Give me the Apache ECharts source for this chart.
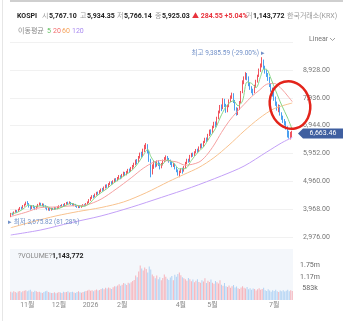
<!DOCTYPE html>
<html>
<head>
<meta charset="utf-8">
<script src="https://cdn.jsdelivr.net/npm/echarts@6/dist/echarts.min.js"></script>
<style>
html, body { margin: 0; padding: 0; background: #fff; }
#chart { width: 350px; height: 321px; }
</style>
</head>
<body>
<div id="chart"></div>
<script>
// 일봉 [시가, 종가, 저가, 고가]
const ohlc = [
  [3720,3800,3676,3830],[3800,3780,3740,3840],[3785,3860,3770,3880],[3860,3900,3840,3940],[3900,3870,3830,3930],
  [3875,3950,3860,3980],[3950,4010,3930,4040],[4010,3990,3950,4050],[3990,4080,3980,4110],[4080,4120,4050,4160],
  [4120,4190,4100,4230],[4190,4160,4120,4250],[4160,4060,4020,4180],[4060,3990,3940,4090],[3990,4070,3970,4100],
  [4070,4030,3990,4110],[4030,3960,3930,4060],[3960,4040,3950,4080],[4040,4120,4020,4150],[4120,4160,4090,4200],
  [4160,4110,4080,4190],[4110,4140,4070,4170],[4140,4080,4040,4160],[4080,4010,3980,4100],[4010,3950,3920,4040],
  [3950,3990,3910,4020],[3990,3940,3900,4020],[3940,3980,3910,4010],[3980,3960,3930,4010],[3960,4010,3940,4040],
  [4010,3975,3950,4030],[3975,4030,3960,4060],[4030,4070,4000,4100],[4070,4050,4020,4110],[4050,4110,4040,4140],
  [4110,4090,4060,4150],[4090,4150,4070,4180],[4150,4190,4120,4220],[4190,4160,4130,4230],[4160,4200,4140,4240],
  [4200,4150,4110,4220],[4150,4110,4080,4180],[4110,4130,4070,4170],[4130,4070,4040,4150],[4070,4040,4010,4100],
  [4040,4060,4000,4090],[4060,4030,4000,4090],[4030,4080,4010,4110],[4080,4110,4050,4140],[4110,4090,4060,4150],
  [4090,4150,4070,4180],[4150,4200,4120,4240],[4200,4290,4180,4320],[4290,4360,4260,4400],[4360,4420,4330,4460],
  [4420,4400,4350,4470],[4400,4480,4380,4520],[4480,4540,4450,4580],[4540,4520,4480,4590],[4520,4600,4500,4640],
  [4600,4660,4570,4700],[4660,4640,4590,4720],[4640,4730,4620,4770],[4730,4800,4700,4840],[4800,4760,4720,4850],
  [4760,4850,4740,4890],[4850,4900,4820,4950],[4900,4870,4830,4960],[4870,4950,4850,4990],[4950,5010,4920,5060],
  [5010,4980,4930,5070],[4980,5070,4960,5110],[5070,5130,5040,5180],[5130,5080,5030,5170],[5080,5170,5060,5220],
  [5170,5250,5140,5300],[5250,5200,5140,5290],[5200,5290,5170,5330],[5290,5350,5250,5400],[5350,5310,5260,5410],
  [5310,5420,5290,5470],[5420,5480,5380,5540],[5480,5560,5450,5620],[5560,5680,5530,5730],[5680,5640,5560,5750],
  [5640,5800,5620,5860],[5800,5920,5770,5980],[5920,5880,5800,6010],[5880,6050,5860,6120],[6050,6180,6000,6260],
  [6180,6230,6100,6320],[6230,6020,5950,6280],[6000,5720,5650,6050],[5700,5250,5100,5760],[5250,5480,5200,5560],
  [5480,5620,5400,5700],[5620,5530,5450,5680],[5530,5640,5480,5700],[5640,5580,5500,5710],[5580,5470,5380,5620],
  [5470,5560,5420,5610],[5560,5680,5520,5730],[5680,5760,5640,5820],[5760,5820,5720,5880],[5820,5740,5680,5860],
  [5740,5690,5620,5790],[5690,5600,5540,5730],[5600,5520,5460,5650],[5520,5560,5470,5610],[5560,5440,5380,5590],
  [5440,5350,5280,5470],[5350,5240,5160,5380],[5240,5300,5100,5340],[5300,5380,5250,5420],[5380,5320,5230,5440],
  [5320,5450,5300,5500],[5450,5600,5420,5650],[5600,5710,5570,5760],[5710,5680,5620,5760],[5680,5850,5650,5900],
  [5850,5920,5810,5970],[5920,5880,5830,5980],[5880,5980,5860,6030],[5980,6060,5950,6110],[6060,6020,5970,6120],
  [6020,6150,6000,6200],[6150,6250,6120,6300],[6250,6200,6140,6310],[6200,6350,6180,6400],[6350,6460,6320,6510],
  [6460,6420,6360,6520],[6420,6600,6400,6650],[6600,6740,6570,6800],[6740,6690,6620,6810],[6690,6880,6670,6940],
  [6880,7020,6850,7080],[7020,6960,6880,7090],[6960,7200,6940,7260],[7200,7420,7170,7480],[7420,7600,7380,7680],
  [7600,7560,7460,7700],[7560,7850,7530,7920],[7850,7680,7600,7900],[7680,7480,7400,7720],[7480,7620,7420,7680],
  [7620,7820,7600,7880],[7820,7950,7780,8020],[7950,8060,7900,8120],[8060,7820,7750,8100],[7820,7560,7480,7860],
  [7560,7380,7300,7600],[7380,7520,7320,7580],[7520,7760,7500,7820],[7760,8120,7740,8180],[8120,8480,8100,8560],
  [8480,8620,8420,8700],[8620,8780,8580,8850],[8780,8650,8560,8820],[8650,8430,8350,8700],[8430,8300,8220,8480],
  [8300,8180,8100,8350],[8180,8120,8020,8260],[8120,8340,8100,8400],[8340,8520,8300,8580],[8520,8700,8480,8760],
  [8700,8910,8680,8980],[8910,9080,8860,9160],[9080,9250,9020,9385.59],[9250,9020,8950,9300],[9020,8880,8800,9080],
  [8880,8760,8680,8940],[8760,8620,8540,8820],[8620,8400,8320,8680],[8400,8250,8150,8460],[8250,8080,7980,8300],
  [8080,7920,7830,8150],[7920,7740,7650,7980],[7740,7580,7480,7800],[7580,7620,7420,7700],[7620,7380,7300,7680],
  [7380,7250,7150,7420],[7250,7140,7040,7300],[7140,7060,6950,7180],[7060,6880,6800,7100],[6880,6700,6520,6920],
  [6700,6560,6480,6760],[6560,6620,6450,6720],[6600,6663.46,6520,6760]
];

// 거래량 (천 주)
const volumesK = [
  420,380,450,400,370,430,460,390,440,470,
  500,450,480,520,430,410,470,440,400,420,
  380,360,410,440,470,400,380,350,360,390,
  340,370,400,380,360,420,390,410,440,380,
  400,420,380,360,410,440,390,370,400,430,
  460,480,520,470,500,450,490,530,480,510,
  560,600,540,620,580,640,600,560,650,700,
  680,740,800,720,780,860,820,760,880,840,
  900,960,1020,1250,1150,1450,1750,1600,1500,1650,
  1580,1400,1700,1550,1300,1200,1100,1250,1050,1150,
  1000,1120,1300,1180,1080,1020,1140,1220,1000,1280,
  1180,1320,1400,1260,1150,1100,1050,980,1120,1060,
  950,1040,900,980,1060,920,880,1000,940,1100,
  860,980,920,1040,880,820,960,900,840,1000,
  780,720,860,700,660,740,620,700,760,640,
  680,600,560,640,700,620,580,660,540,600,
  520,580,560,480,540,600,520,560,620,500,
  460,540,480,420,500,460,520,440,400,480,
  450,500,430,470,520,440,490,460
];

// 이동평균 [봉 번호, 값]
const ma5 = [[0,3790],[4,3840],[8,3960],[12,4110],[16,4060],[20,4080],[24,4060],[28,3960],[32,3990],[36,4080],
  [40,4170],[44,4100],[48,4060],[52,4150],[56,4380],[60,4550],[64,4700],[68,4880],[72,5030],[76,5180],[80,5320],
  [84,5560],[88,5880],[91,6100],[93,5850],[96,5620],[100,5540],[104,5720],[108,5620],[112,5400],[116,5410],
  [120,5700],[124,5970],[128,6180],[132,6510],[136,6840],[140,7330],[144,7690],[148,7830],[151,7650],[154,7830],
  [157,8500],[160,8450],[163,8300],[166,8700],[168,8960],[170,8950],[173,8600],[176,8190],[180,7670],[184,7210],[187,6800]];
const ma20 = [[0,3700],[10,3850],[20,4020],[30,4040],[40,4080],[50,4110],[60,4320],[70,4680],[80,5080],[88,5420],
  [95,5640],[100,5700],[110,5650],[116,5530],[125,5640],[130,5880],[135,6250],[140,6700],[145,7100],[150,7420],
  [155,7700],[160,7980],[165,8200],[170,8420],[175,8450],[180,8250],[184,8000],[187,7800]];
const ma60 = [[0,3300],[15,3520],[30,3720],[45,3880],[60,4020],[75,4220],[90,4550],[105,4950],[115,5200],
  [125,5450],[135,5800],[145,6250],[155,6750],[165,7200],[175,7550],[187,7750]];
const ma120 = [[0,3040],[20,3220],[40,3480],[60,3720],[80,4030],[100,4380],[120,4740],[140,5150],[155,5500],
  [170,6000],[180,6330],[187,6520]];

const monthTicks = {11: '11월', 32: '12월', 53: '2026', 74: '2월', 113: '4월', 134: '5월', 175: '7월'};
const lastPrice = 6663.46;
const highPoint = [167, 9385.59];
const lowPoint = [0, 3675.82];

const FONT = 'Roboto, "Noto Sans CJK KR", sans-serif';
const upColor = '#f0545f';
const downColor = '#4aa0f0';
const fmt2 = v => v.toLocaleString('en-US', {minimumFractionDigits: 2, maximumFractionDigits: 2});

const chart = echarts.init(document.getElementById('chart'));
const cats = ohlc.map((d, i) => String(i));
const volData = volumesK.map((v, i) => ({
  value: v,
  itemStyle: {color: ohlc[i][1] >= ohlc[i][0] ? '#f6b3bb' : '#b0d2f4'}
}));
const highPct = ((lastPrice / highPoint[1] - 1) * 100).toFixed(2);
const lowPct = ((lastPrice / lowPoint[1] - 1) * 100).toFixed(2);

function txt(x, y, text, fill, extra) {
  return {
    type: 'text', x: x, y: y, silent: true,
    style: Object.assign({text: text, fill: fill, fontSize: 7, fontFamily: FONT, verticalAlign: 'middle'}, extra || {})
  };
}
function maLine(name, data, color) {
  return {
    name: name, type: 'line', data: data, xAxisIndex: 0, yAxisIndex: 0,
    symbol: 'none', smooth: 0.3, silent: true,
    lineStyle: {color: color, width: 1}
  };
}

chart.setOption({
  animation: false,
  textStyle: {fontFamily: FONT},
  grid: [
    {left: 10, top: 42.2, width: 283, height: 194.6},
    {left: 10, top: 249, width: 283, height: 51, show: true, backgroundColor: '#f4f7fb', borderWidth: 0}
  ],
  xAxis: [
    {type: 'category', data: cats, gridIndex: 0, axisLine: {show: false}, axisTick: {show: false},
      axisLabel: {show: false}, splitLine: {show: false}},
    {type: 'category', data: cats, gridIndex: 1, axisLine: {show: false}, axisTick: {show: false},
      splitLine: {show: false},
      axisLabel: {
        interval: (i) => monthTicks[i] !== undefined,
        formatter: (v, i) => monthTicks[i] || '',
        color: '#8a8a8a', fontSize: 7, margin: 2
      }}
  ],
  yAxis: [
    {type: 'value', gridIndex: 0, position: 'right', min: 2976, max: 9920, interval: 992,
      axisLine: {show: false}, axisTick: {show: false},
      splitLine: {lineStyle: {color: '#f1f1f1', width: 1}},
      axisLabel: {showMaxLabel: false, formatter: v => fmt2(v), color: '#777', fontSize: 7, margin: 10}},
    {type: 'value', gridIndex: 1, position: 'right', min: 0, max: 2590, interval: 1750 / 3,
      axisLine: {show: false}, axisTick: {show: false}, splitLine: {show: false},
      axisLabel: {
        formatter: v => (v < 1 || v > 2000) ? '' : (v >= 1000 ? (v / 1000).toFixed(2) + 'm' : Math.round(v) + 'k'),
        color: '#666', fontSize: 7, margin: 17, align: 'center'
      }}
  ],
  series: [
    {
      type: 'candlestick', data: ohlc, xAxisIndex: 0, yAxisIndex: 0, barWidth: '60%', silent: true,
      itemStyle: {color: upColor, color0: downColor, borderColor: upColor, borderColor0: downColor, borderWidth: 1},
      markPoint: {
        symbol: 'circle', symbolSize: 1, silent: true,
        itemStyle: {color: 'rgba(0,0,0,0)'},
        data: [
          {coord: highPoint, label: {show: true, position: 'left', distance: 0, offset: [3, -4],
            formatter: '최고 ' + fmt2(highPoint[1]) + ' (' + highPct + '%) ▸', color: '#7190c8', fontSize: 6.5}},
          {coord: lowPoint, label: {show: true, position: 'right', distance: 0, offset: [-3, 5],
            formatter: '▸ 최저 ' + fmt2(lowPoint[1]) + ' (' + lowPct + '%)', color: '#7190c8', fontSize: 6.5}}
        ]
      }
    },
    maLine('MA120', ma120, '#c3a0f7'),
    maLine('MA60', ma60, '#f8c28e'),
    maLine('MA20', ma20, '#f5a0a0'),
    maLine('MA5', ma5, '#86d586'),
    {type: 'bar', data: volData, xAxisIndex: 1, yAxisIndex: 1, barWidth: '65%', silent: true}
  ]
});

// 현재가 태그, 헤더, 주석
const tagY = chart.convertToPixel({gridIndex: 0}, [ohlc.length - 1, lastPrice])[1];
const grey = '#9a9a9a', dark = '#222';
const bold = {fontWeight: 'bold'};
chart.setOption({
  graphic: [
    {type: 'rect', shape: {x: 10, y: 0, width: 333, height: 2}, style: {fill: '#cfcfcf'}, silent: true},
    {type: 'line', shape: {x1: 2.5, y1: 0, x2: 2.5, y2: 321}, style: {stroke: '#e6e6e6', lineWidth: 1}, silent: true},
    txt(17, 16, 'KOSPI', dark, bold),
    txt(42, 16, '시', grey), txt(49, 16, '5,767.10', dark, bold),
    txt(80, 16, '고', grey), txt(87, 16, '5,934.35', dark, bold),
    txt(117, 16, '저', grey), txt(124, 16, '5,766.14', dark, bold),
    txt(155, 16, '종', grey), txt(162, 16, '5,925.03', dark, bold),
    txt(192, 16, '▲ 284.55 +5.04%', '#e8323c', bold),
    txt(246, 16, '거', grey), txt(253, 16, '1,143,772', dark, bold),
    txt(287, 16, '한국거래소(KRX)', grey),
    txt(18, 31, '이동평균', '#888'),
    txt(47, 31, '5', '#5cbf5c'), txt(53, 31, '20', '#f26d6d'),
    txt(62, 31, '60', '#f5a35a'), txt(72, 31, '120', '#a98af0'),
    txt(309, 39, 'Linear', '#777'),
    {type: 'polyline', shape: {points: [[330, 38], [332.5, 40.5], [335, 38]]}, style: {stroke: '#888', lineWidth: 0.8, fill: 'none'}, silent: true},
    txt(18, 256, '?VOLUME?', '#888'),
    txt(52, 256, '1,143,772', dark, bold),
    {type: 'polygon', shape: {points: [[298, tagY], [303, tagY - 5], [343, tagY - 5], [343, tagY + 5], [303, tagY + 5]]},
      style: {fill: '#3f5fa0'}, silent: true},
    txt(323, tagY, fmt2(lastPrice), '#fff', {align: 'center'}),
    {type: 'ellipse', x: 290, y: 105, rotation: 0.25, shape: {cx: 0, cy: 0, rx: 20, ry: 24},
      style: {fill: 'none', stroke: '#e3241b', lineWidth: 2.5}, silent: true, z: 100}
  ]
});
</script>
</body>
</html>
